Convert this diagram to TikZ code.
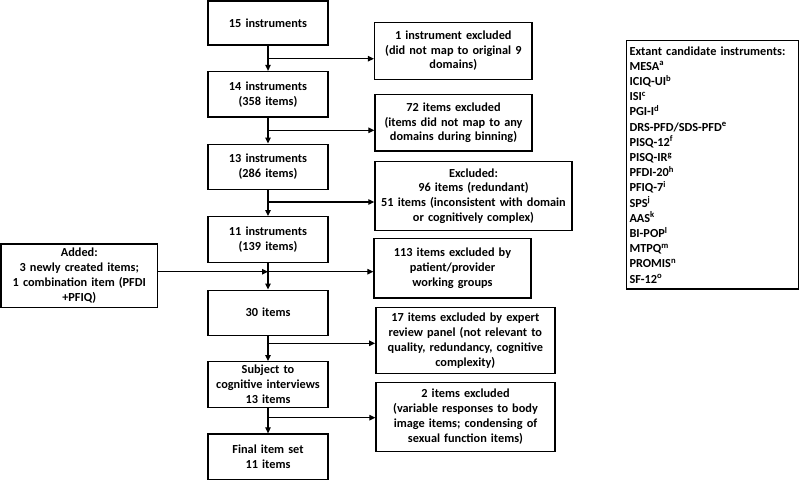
\documentclass[tikz,border=0pt]{standalone}
\usepackage{fontspec}
\setmainfont{Carlito}
\usetikzlibrary{arrows.meta}
\begin{document}
\begin{tikzpicture}[x=1pt,y=-1pt,
  box/.style={draw, line width=1.4pt, align=center, inner sep=2pt,
    font=\bfseries\fontsize{12.3}{14.8}\selectfont},
  arr/.style={line width=1.2pt, -{Triangle[length=6pt,width=5.5pt]}}]
\useasboundingbox (0,0) rectangle (800,480);
% left column
\node[box, minimum width=120pt, minimum height=44pt, text width=116pt] (A) at (268,23) {15 instruments};
\node[box, minimum width=120pt, minimum height=45.5pt, text width=116pt] (B) at (268,94.3) {14 instruments\\(358 items)};
\node[box, minimum width=120pt, minimum height=45pt, text width=116pt] (C) at (268,166.7) {13 instruments\\(286 items)};
\node[box, minimum width=120pt, minimum height=45.6pt, text width=116pt] (D) at (268,239.5) {11 instruments\\(139 items)};
\node[box, minimum width=120pt, minimum height=45pt, text width=116pt] (E) at (268,312.7) {30 items};
\node[box, minimum width=120pt, minimum height=45.6pt, text width=116pt] (F) at (268,384.5) {Subject to\\cognitive interviews\\13 items};
\node[box, minimum width=120pt, minimum height=45.3pt, text width=116pt] (G) at (268,456.7) {Final item set\\11 items};
% added
\node[box, minimum width=156.7pt, minimum height=63.7pt, text width=152pt] (H) at (79.3,275.8) {Added:\\3 newly created items;\\1 combination item (PFDI\\+PFIQ)};
% right column
\node[box, minimum width=157.3pt, minimum height=57pt, text width=153pt] (R1) at (453.3,50.8) {1 instrument excluded\\(did not map to original 9\\domains)};
\node[box, minimum width=157pt, minimum height=56.3pt, text width=153pt] (R2) at (453.5,122.8) {72 items excluded\\(items did not map to any\\domains during binning)};
\node[box, minimum width=197pt, minimum height=69.4pt, text width=193pt] (R3) at (473.5,196) {Excluded:\\96 items (redundant)\\51 items (inconsistent with domain\\or cognitively complex)};
\node[box, minimum width=157pt, minimum height=59.7pt, text width=153pt] (R4) at (452.5,268.2) {113 items excluded by\\patient/provider\\working groups};
\node[box, minimum width=178.7pt, minimum height=66.4pt, text width=175pt] (R5) at (465.3,340.5) {17 items excluded by expert\\review panel (not relevant to\\quality, redundancy, cognitive\\complexity)};
\node[box, minimum width=179pt, minimum height=69pt, text width=175pt] (R6) at (465.5,416.8) {2 items excluded\\(variable responses to body\\image items; condensing of\\sexual function items)};
% legend
\node[box, minimum width=172.4pt, minimum height=248.3pt, text width=166pt, align=left,
  font=\bfseries\fontsize{12.3}{15.2}\selectfont] (L) at (712.5,164.8)
 {\textbf{Extant candidate instruments:}\\
  MESA\textsuperscript{a}\\
  ICIQ-UI\textsuperscript{b}\\
  ISI\textsuperscript{c}\\
  PGI-I\textsuperscript{d}\\
  DRS-PFD/SDS-PFD\textsuperscript{e}\\
  PISQ-12\textsuperscript{f}\\
  PISQ-IR\textsuperscript{g}\\
  PFDI-20\textsuperscript{h}\\
  PFIQ-7\textsuperscript{i}\\
  SPS\textsuperscript{j}\\
  AAS\textsuperscript{k}\\
  BI-POP\textsuperscript{l}\\
  MTPQ\textsuperscript{m}\\
  PROMIS\textsuperscript{n}\\
  SF-12\textsuperscript{o}};
% branch points
\coordinate (b1) at (268,58.7);
\coordinate (b2) at (268,130.3);
\coordinate (b3) at (268,202);
\coordinate (b4) at (268,271.7);
\coordinate (b5) at (268,343.3);
\coordinate (b6) at (268,417.7);
% main flow
\draw[arr] (A.south) -- (B.north);
\draw[arr] (B.south) -- (C.north);
\draw[arr] (C.south) -- (D.north);
\draw[arr] (D.south) -- (E.north);
\draw[arr] (E.south) -- (F.north);
\draw[arr] (F.south) -- (G.north);
% branches
\draw[arr] (b1) -- (b1 -| R1.west);
\draw[arr] (b2) -- (b2 -| R2.west);
\draw[arr] (b3) -- (b3 -| R3.west);
\draw[arr] (H.east |- b4) -- (b4);
\draw[arr] (b4) -- (b4 -| R4.west);
\draw[arr] (b5) -- (b5 -| R5.west);
\draw[arr] (b6) -- (b6 -| R6.west);
\end{tikzpicture}
\end{document}
